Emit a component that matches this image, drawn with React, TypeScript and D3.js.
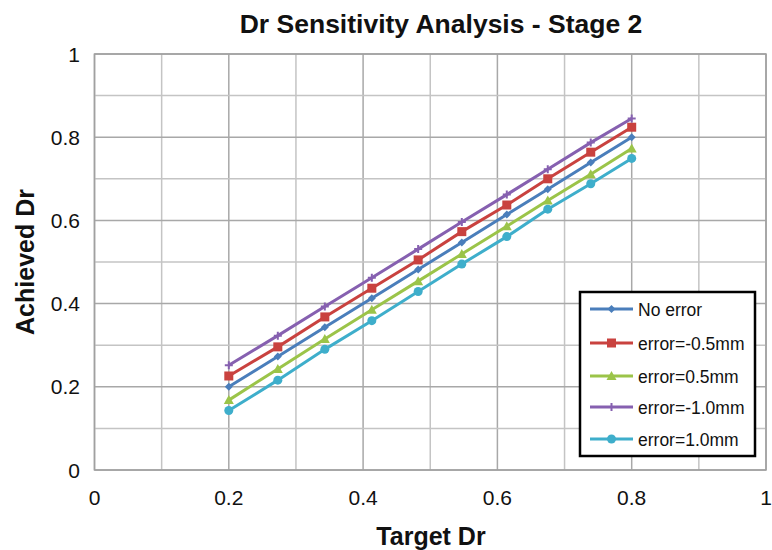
import React from "react";
import * as d3 from "d3";

// Target Dr values at which each configuration was evaluated
const targetDr = [0.2, 0.273, 0.343, 0.413, 0.482, 0.547, 0.614, 0.675, 0.739, 0.8];

// Achieved Dr for each measurement-error case
const noError = [0.2, 0.273, 0.343, 0.413, 0.482, 0.547, 0.614, 0.675, 0.739, 0.8];
const errMinus05 = [0.226, 0.296, 0.368, 0.437, 0.505, 0.573, 0.637, 0.7, 0.764, 0.824];
const errPlus05 = [0.168, 0.243, 0.315, 0.385, 0.454, 0.519, 0.586, 0.648, 0.711, 0.773];
const errMinus10 = [0.252, 0.323, 0.393, 0.462, 0.531, 0.596, 0.662, 0.723, 0.787, 0.845];
const errPlus10 = [0.143, 0.216, 0.29, 0.359, 0.429, 0.495, 0.561, 0.627, 0.688, 0.749];

const seriesNames = ["No error", "error=-0.5mm", "error=0.5mm", "error=-1.0mm", "error=1.0mm"];
const seriesValues = [noError, errMinus05, errPlus05, errMinus10, errPlus10];
const seriesColors = ["#4a7ebb", "#c9423f", "#9bc449", "#8660b0", "#3eaecb"];
const seriesMarkers = ["diamond", "square", "triangle", "plus", "circle"];

const axisTicks = [0, 0.2, 0.4, 0.6, 0.8, 1];
const axisTickLabels = ["0", "0.2", "0.4", "0.6", "0.8", "1"];
const gridTicks = d3.range(0, 11).map((i) => i / 10);

const W = 772;
const H = 550;
const plot = { left: 94.5, right: 766, top: 54, bottom: 470 };
const FONT = "'Liberation Sans', Arial, sans-serif";

function Marker({ kind, x, y, color }: { kind: string; x: number; y: number; color: string }) {
  if (kind === "square") return <rect x={x - 4.5} y={y - 4.5} width={9} height={9} fill={color} />;
  if (kind === "diamond")
    return <path d={`M${x},${y - 4}L${x + 4},${y}L${x},${y + 4}L${x - 4},${y}Z`} fill={color} />;
  if (kind === "triangle")
    return <path d={`M${x},${y - 5}L${x + 5},${y + 4}L${x - 5},${y + 4}Z`} fill={color} />;
  if (kind === "circle") return <circle cx={x} cy={y} r={4.5} fill={color} />;
  return (
    <path d={`M${x - 4},${y}H${x + 4}M${x},${y - 4}V${y + 4}`} stroke={color} strokeWidth={2} />
  );
}

export default function App() {
  const x = d3.scaleLinear().domain([0, 1]).range([plot.left, plot.right]);
  const y = d3.scaleLinear().domain([0, 1]).range([plot.bottom, plot.top]);
  const line = d3
    .line<[number, number]>()
    .x((d) => x(d[0]))
    .y((d) => y(d[1]));

  const legend = { x: 580, y: 292, w: 175, h: 164 };
  const legendRows = [309, 343, 376, 407, 439];

  return (
    <svg width={W} height={H} style={{ position: "absolute", left: 0, top: 0, background: "#fff" }} fontFamily={FONT}>
      {/* gridlines */}
      {gridTicks.map((t, i) => (
        <line key={"vx" + i} x1={x(t)} x2={x(t)} y1={plot.top} y2={plot.bottom}
          stroke={i % 2 === 0 ? "#a8a8a8" : "#c4c4c4"} strokeWidth={1.5} />
      ))}
      {gridTicks.map((t, i) => (
        <line key={"hy" + i} x1={plot.left} x2={plot.right} y1={y(t)} y2={y(t)}
          stroke={i % 2 === 0 ? "#a8a8a8" : "#c4c4c4"} strokeWidth={1.5} />
      ))}
      <rect x={plot.left} y={plot.top} width={plot.right - plot.left} height={plot.bottom - plot.top}
        fill="none" stroke="#a0a0a0" strokeWidth={1.5} />

      {/* series */}
      {seriesValues.map((vals, si) => {
        const pts = targetDr.map((t, i) => [t, vals[i]] as [number, number]);
        return (
          <g key={si}>
            <path d={line(pts) || ""} fill="none" stroke={seriesColors[si]} strokeWidth={3} />
            {pts.map((p, i) => (
              <Marker key={i} kind={seriesMarkers[si]} x={x(p[0])} y={y(p[1])} color={seriesColors[si]} />
            ))}
          </g>
        );
      })}

      {/* axis tick labels */}
      {axisTicks.map((t, i) => (
        <text key={"yl" + i} x={80} y={y(t) + 7.5} textAnchor="end" fontSize={21} fill="#111">
          {axisTickLabels[i]}
        </text>
      ))}
      {axisTicks.map((t, i) => (
        <text key={"xl" + i} x={x(t)} y={505} textAnchor="middle" fontSize={21} fill="#111">
          {axisTickLabels[i]}
        </text>
      ))}

      {/* titles */}
      <text x={441} y={33} textAnchor="middle" fontSize={26.5} fontWeight="bold" fill="#111">
        Dr Sensitivity Analysis - Stage 2
      </text>
      <text x={431} y={545} textAnchor="middle" fontSize={25} fontWeight="bold" fill="#111">
        Target Dr
      </text>
      <text transform={`translate(34,${262}) rotate(-90)`} textAnchor="middle" fontSize={25} fontWeight="bold" fill="#111">
        Achieved  Dr
      </text>

      {/* legend */}
      <rect x={legend.x} y={legend.y} width={legend.w} height={legend.h} fill="#fff" stroke="#000" strokeWidth={2.5} />
      {seriesNames.map((name, i) => (
        <g key={name}>
          <line x1={590} x2={633} y1={legendRows[i]} y2={legendRows[i]} stroke={seriesColors[i]} strokeWidth={3} />
          <Marker kind={seriesMarkers[i]} x={611.5} y={legendRows[i]} color={seriesColors[i]} />
          <text x={638} y={legendRows[i] + 6.5} fontSize={17.5} fill="#111">{name}</text>
        </g>
      ))}
    </svg>
  );
}
